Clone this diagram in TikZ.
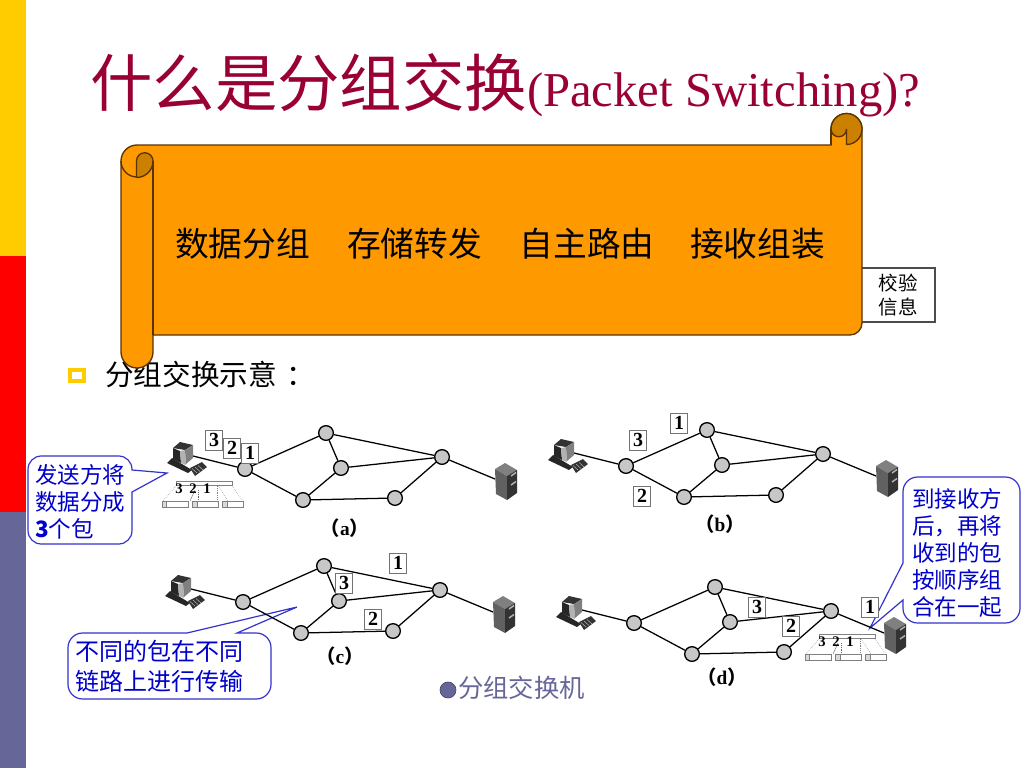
\documentclass[tikz,border=0pt]{standalone}
\usepackage{fontspec}
\setmainfont{Liberation Serif}
\newfontfamily\cjk{Noto Sans CJK SC}
\usetikzlibrary{calc}

\definecolor{barYellow}{HTML}{FFCC00}
\definecolor{barRed}{HTML}{FF0000}
\definecolor{barBlue}{HTML}{666699}
\definecolor{titleRed}{HTML}{990033}
\definecolor{scrollFill}{HTML}{FF9900}
\definecolor{scrollDark}{HTML}{CC8000}
\definecolor{scrollLine}{HTML}{5A3300}
\definecolor{noteBlue}{HTML}{0000CC}
\definecolor{noteLine}{HTML}{3333CC}

\tikzset{
  router/.style={circle,draw=black,fill=black!22,line width=1pt,minimum size=11pt,inner sep=0pt},
  link/.style={line width=0.95pt,black},
  pktbox/.style={draw=black!55,fill=white,line width=0.6pt,minimum width=13pt,minimum height=15pt,
    inner sep=0pt,font=\fontsize{15}{15}\selectfont\bfseries},
  caption/.style={font=\fontsize{14.5}{14.5}\selectfont\bfseries},
  notebox/.style={draw=noteLine,fill=white,line width=0.9pt},
  notetext/.style={text=noteBlue,align=left,inner sep=0pt,anchor=north west},
  pcicon/.pic={
    \fill[black!85] (-18,5) -- (-13,0) -- (7,12) -- (3,15) -- cycle;
    \fill[black!80] (-12,-10) -- (-5,-16) -- (8,-13) -- (0,-8) -- cycle;
    \fill[black!85] (-12,-10) -- (-5,-7) -- (-4,5) -- (-12,1) -- cycle;
    \fill[black!30] (-5,-7) -- (0,-8) -- (1,7) -- (-4,5) -- cycle;
    \fill[black!50] (0,-8) -- (8,-13) -- (8,0) -- (1,6) -- cycle;
    \fill[black!80] (5,10) -- (17,4) -- (22,9) -- (10,18) -- cycle;
    \foreach \k in {0,1,2}
      \draw[black!25,line width=0.35pt] ($(7,10.5)+(\k*3,\k*-1.5)$) -- ($(12,15)+(\k*3,\k*-1.5)$);
  },
  svicon/.pic={
    \fill[black!50] (-11,-13) -- (-1,-19) -- (11,-12) -- (1,-6) -- cycle;
    \fill[black!62] (-11,-13) -- (1,-6) -- (1,18) -- (-10,12) -- cycle;
    \fill[black!80] (1,-6) -- (11,-12) -- (11,11) -- (1,18) -- cycle;
    \foreach \k in {0,1}
      \draw[black!30,line width=1.1pt] ($(5,-6)+(0,\k*9)$) -- ($(10,-9.5)+(0,\k*9)$);
  },
  pktsplit/.pic={
    \draw[black!50,fill=white,line width=0.4pt] (0,0) rectangle (56,4.5);
    \foreach \a/\b in {0/-13,41/41,42/52,56/67}
      \draw[black!50,densely dotted,line width=0.4pt] (\a,5) -- (\b,20);
    \draw[black!50,line width=0.4pt] (19,9) -- (14,20);
    \draw[black!60,densely dotted,line width=0.4pt] (22,9) -- (22,20);
    \foreach \a/\b/\c in {-14/-9.5/12,16/21/42,46/51/67}{
      \draw[black!50,fill=black!15,line width=0.4pt] (\a,20) rectangle (\b,26);
      \draw[black!50,fill=white,line width=0.4pt] (\b,20) rectangle (\c,26);
    }
    \foreach \d/\a in {3/3,2/17,1/31}
      \node[font=\fontsize{11}{11}\selectfont\bfseries,inner sep=0pt] (-d\d) at (\a,7.5) {\d};
  }
}

\begin{document}
\begin{tikzpicture}[x=0.75pt,y=-0.75pt,
every node/.style={inner sep=1pt}
]
\useasboundingbox (0,0) rectangle (1024,768);

% side bar
\fill[barYellow] (0,0) rectangle (26,256);
\fill[barRed] (0,256) rectangle (26,512);
\fill[barBlue] (0,512) rectangle (26,768);

\node[anchor=base west,inner sep=0pt,text=titleRed] (title) at (90,106)
  {\fontsize{46.8}{50}\cjk 什么是分组交换\fontsize{36.5}{40}\rmfamily(Packet Switching)?};

\draw[black!70,fill=white,line width=1pt] (850,268) rectangle (935,322);
\node[align=center,font=\fontsize{14.6}{18}\cjk] (check) at (898,295) {校验\\信息};

\draw[barYellow,line width=2.5pt] (70,370) rectangle (84,381);
\node[anchor=west,inner sep=0pt,font=\fontsize{21.5}{24}\cjk] (intro) at (105,375) {分组交换示意\kern7pt：};

% scroll
\draw[scrollLine,fill=scrollFill,line width=1pt]
  (137,145) -- (831,145) -- (831,129) arc[start angle=180,end angle=0,radius=11.625pt]
  -- (862,323) arc[start angle=0,end angle=-90,radius=9pt]
  -- (153,335) -- (153,352) arc[start angle=0,end angle=-180,radius=12pt]
  -- (121,161) arc[start angle=180,end angle=90,radius=12pt] -- cycle;
\draw[scrollLine,fill=scrollDark,line width=1pt]
  (831,129) arc[start angle=180,end angle=0,radius=11.625pt]
  arc[start angle=0,end angle=-90,radius=11.625pt]
  -- (846.5,129) arc[start angle=0,end angle=-180,radius=5.8125pt] -- cycle;
\draw[scrollLine,line width=1pt] (831,129) -- (831,145);
\draw[scrollLine,fill=scrollDark,line width=1pt]
  (136.5,177) -- (136.5,161) arc[start angle=180,end angle=0,radius=6.2pt]
  arc[start angle=0,end angle=-90,radius=12.4pt];
\draw[scrollLine,line width=1pt] (121,161) arc[start angle=180,end angle=270,radius=12pt];
\draw[scrollLine,line width=1pt] (153,161) -- (153,335);

\foreach \nm/\cx/\txt in {s1/242.5/数据分组,s2/414.5/存储转发,s3/587/自主路由,s4/757.5/接收组装}
  \node[font=\fontsize{25.3}{28}\cjk] (\nm) at (\cx,244) {\txt};

% notes
\draw[notebox] (132,492) [rounded corners=10pt] -- (132,544) -- (28,544) -- (28,456) -- (132,456)
  [sharp corners] -- (132,470) -- (167,473) -- cycle;
\node[notetext,font=\fontsize{16.9}{20.25}\cjk] (noteA) at (35,464) {发送方将\\数据分成\\\textbf{3}个包};
\draw[notebox] (903,600) [rounded corners=11pt] -- (903,623) -- (1020,623) -- (1020,477) -- (903,477)
  [sharp corners] -- (903,563) -- (870,628) -- cycle;
\node[notetext,font=\fontsize{16.9}{20.25}\cjk] (noteD) at (912,488) {到接收方\\后，再将\\收到的包\\按顺序组\\合在一起};
\draw[notebox] (187,633) [rounded corners=11pt] -- (68,633) -- (68,699) -- (271,699) -- (271,633)
  [sharp corners] -- (237,633) -- (297,607) -- cycle;
\node[notetext,font=\fontsize{18}{22.5}\cjk] (noteC) at (75,640) {不同的包在不同\\链路上进行传输};

% networks
\foreach \netw/\sx/\sy in {a/0/0,b/381/-3,c/-2/133,d/389/154}{
\begin{scope}[shift={(\sx,\sy)}]
  \foreach \r/\rx/\ry in {r1/245/469,r2/326/433,r3/341/468,r4/442/457,r5/303/500,r6/395/498}
    \node[router] (\netw-\r) at (\rx,\ry) {};
  \coordinate (\netw-pc) at (193,456);
  \coordinate (\netw-sv) at (495,479);
  \foreach \i/\j in {pc/r1, r1/r2, r1/r5, r2/r3, r2/r4, r3/r4, r3/r5, r5/r6, r6/r4, r4/sv}
    \draw[link] (\netw-\i) -- (\netw-\j);
  \pic at (185,458) {pcicon};
  \pic at (506,482) {svicon};
\end{scope}
}

\pic (splitA) at (176,481) {pktsplit};
\pic (splitD) at (819,634) {pktsplit};

% packets
\foreach \nm/\dg/\px/\py in {a1/1/250/453,a2/2/232/448,a3/3/214/440,
                             b1/1/679/423,b2/2/642/496,b3/3/638/440,
                             c1/1/398/563,c2/2/373/619,c3/3/344/583,
                             d1/1/870/607,d2/2/791/626,d3/3/757/607}
  \node[pktbox] (pk-\nm) at (\px,\py) {\dg};

\foreach \nm/\cx/\cy/\ltr in {capA/345/528/a,capB/720/524/b,capC/340/656/c,capD/722/677/d}
  \node[caption] (\nm) at (\cx,\cy) {{\cjk（}\ltr{\cjk）}};

\node[circle,draw=barBlue!70!black,fill=barBlue,line width=0.5pt,minimum size=12pt,inner sep=0pt] (dot) at (448,690) {};
\node[anchor=west,inner sep=0pt,text=barBlue,font=\fontsize{19}{22}\cjk] (legend) at (458,688) {分组交换机};
\end{tikzpicture}
\end{document}
